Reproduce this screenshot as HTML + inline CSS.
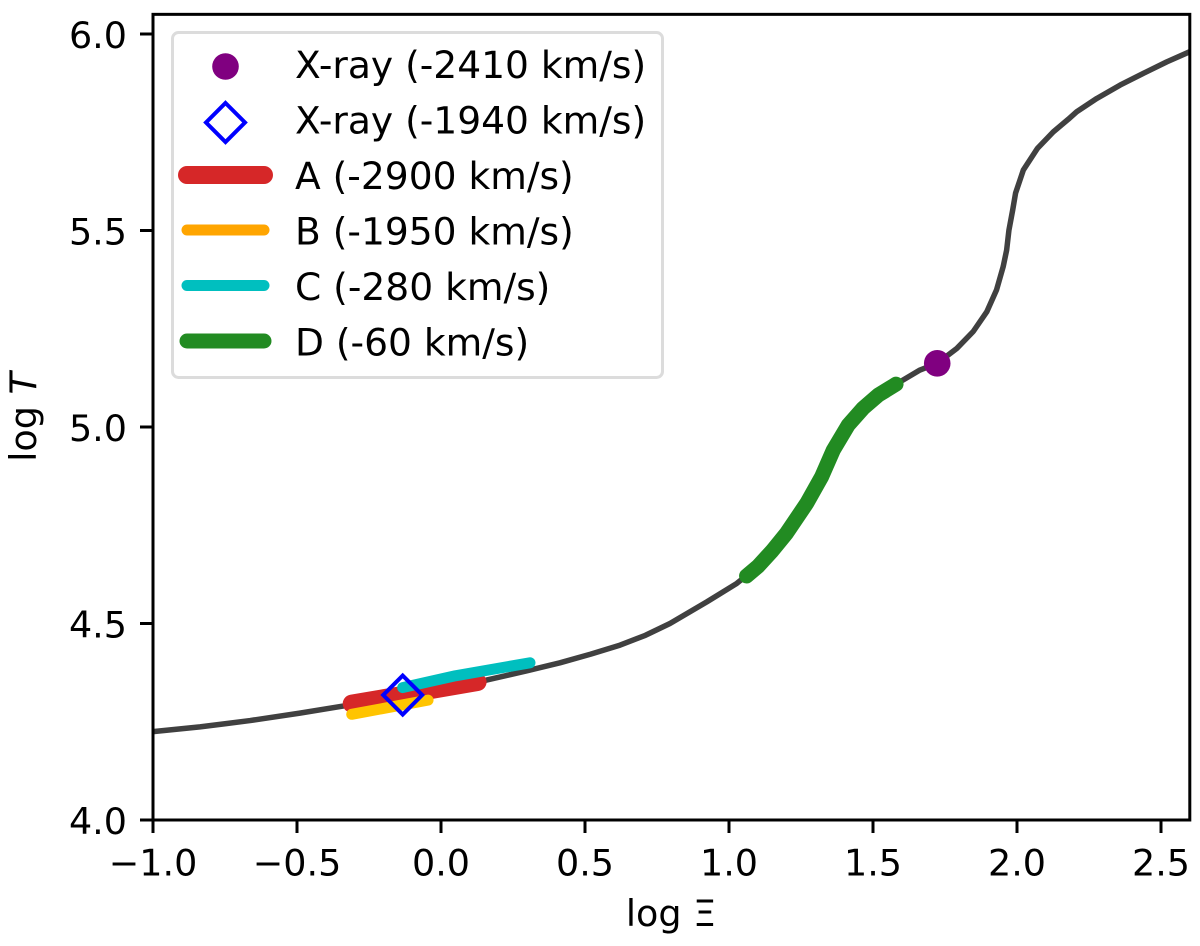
<!DOCTYPE html>
<html lang="en">
<head>
<meta charset="utf-8">
<title>log T versus log Xi</title>
<style>
html,body{margin:0;padding:0;background:#fff;width:1200px;height:946px;overflow:hidden}
svg{display:block}
text{font-family:"DejaVu Sans","Liberation Sans",sans-serif;font-size:36.5px;fill:#000}
.lg{font-size:37.6px}
</style>
</head>
<body>
<svg id="chart" width="1200" height="946" viewBox="0 0 1200 946" xmlns="http://www.w3.org/2000/svg">
  <rect x="0" y="0" width="1200" height="946" fill="#ffffff"/>
  <g id="marks"></g>
  <g id="axes"></g>
  <text x="671" y="926" text-anchor="middle">log Ξ</text>
  <text transform="translate(36,417) rotate(-90)" text-anchor="middle">log <tspan font-style="italic">T</tspan></text>
  <g>
    <rect x="172.5" y="32.5" width="490" height="345" rx="6" ry="6" fill="#ffffff" fill-opacity="0.85" stroke="#dcdcdc" stroke-width="3"/>
    <g>
      <circle cx="225.5" cy="66.5" r="13.3" fill="#800080"/>
      <text class="lg" x="295" y="78">X-ray (-2410 km/s)</text>
    </g>
    <g>
      <polygon points="225.5,103 245,122.5 225.5,142 206,122.5" fill="none" stroke="#0000ff" stroke-width="4"/>
      <text class="lg" x="295" y="133.5">X-ray (-1940 km/s)</text>
    </g>
    <g>
      <line x1="187" y1="175" x2="264" y2="175" stroke="#d62728" stroke-width="18" stroke-linecap="round"/>
      <text class="lg" x="295" y="189">A (-2900 km/s)</text>
    </g>
    <g>
      <line x1="187" y1="230" x2="264" y2="230" stroke="#ffa500" stroke-width="11" stroke-linecap="round"/>
      <text class="lg" x="295" y="244.5">B (-1950 km/s)</text>
    </g>
    <g>
      <line x1="187" y1="285.5" x2="264" y2="285.5" stroke="#00bfbf" stroke-width="11" stroke-linecap="round"/>
      <text class="lg" x="295" y="300">C (-280 km/s)</text>
    </g>
    <g>
      <line x1="187" y1="341" x2="264" y2="341" stroke="#228b22" stroke-width="15" stroke-linecap="round"/>
      <text class="lg" x="295" y="355.5">D (-60 km/s)</text>
    </g>
  </g>
</svg>
<script>
// Chart data
const curveX = [-1.0,-0.837,-0.75,-0.663,-0.49,-0.34,-0.2,-0.1,0.0,0.158,0.3,0.413,0.52,0.622,0.71,0.795,0.923,1.027,1.10,1.15,1.2,1.27,1.322,1.362,1.414,1.466,1.518,1.58,1.663,1.723,1.791,1.848,1.895,1.929,1.952,1.964,1.972,1.985,1.995,2.022,2.071,2.126,2.178,2.207,2.277,2.358,2.439,2.52,2.6];
const curveT = [4.225,4.237,4.245,4.253,4.272,4.29,4.312,4.328,4.342,4.356,4.38,4.40,4.422,4.445,4.47,4.50,4.555,4.602,4.645,4.685,4.730,4.806,4.874,4.941,5.005,5.048,5.081,5.109,5.145,5.162,5.200,5.243,5.293,5.349,5.408,5.450,5.501,5.552,5.595,5.654,5.709,5.751,5.783,5.802,5.836,5.870,5.900,5.929,5.955];
const lineAX = [-0.31,0.127];
const lineAT = [4.296,4.351];
const lineBX = [-0.31,-0.045];
const lineBT = [4.269,4.305];
const lineCX = [-0.133,0.05,0.309];
const lineCT = [4.337,4.367,4.40];
const lineDX = [1.061,1.10,1.15,1.2,1.27,1.322,1.362,1.414,1.466,1.518,1.58];
const lineDT = [4.621,4.645,4.685,4.730,4.806,4.874,4.941,5.005,5.048,5.081,5.109];
const xrayCircleX = [1.723];
const xrayCircleT = [5.162];
const xrayDiamondX = [-0.133];
const xrayDiamondT = [4.318];
const xTicks = [-1.0,-0.5,0.0,0.5,1.0,1.5,2.0,2.5];
const xTickLabels = ['\u22121.0','\u22120.5','0.0','0.5','1.0','1.5','2.0','2.5'];
const yTicks = [4.0,4.5,5.0,5.5,6.0];
const yTickLabels = ['4.0','4.5','5.0','5.5','6.0'];

// Axis functions
const xDomain = [-1.0, 2.6], yDomain = [4.0, 6.05];
const plotL = 153, plotR = 1189.8, plotB = 820, pxPerT = 393;
const plotT = plotB - (yDomain[1] - yDomain[0]) * pxPerT;
function sx(v){ return plotL + (v - xDomain[0]) / (xDomain[1] - xDomain[0]) * (plotR - plotL); }
function sy(v){ return plotB - (v - yDomain[0]) * pxPerT; }

const NS = 'http://www.w3.org/2000/svg';
function make(tag, attrs, parent){
  const el = document.createElementNS(NS, tag);
  for (const k in attrs) el.setAttribute(k, attrs[k]);
  parent.appendChild(el);
  return el;
}
function pathD(xs, ys){
  return xs.map(function(x, i){ return (i ? 'L' : 'M') + sx(x).toFixed(2) + ' ' + sy(ys[i]).toFixed(2); }).join(' ');
}

const marks = document.getElementById('marks');
const axes = document.getElementById('axes');

const curve = make('path', {d: pathD(curveX, curveT), fill: 'none', stroke: '#000', 'stroke-opacity': 0.75, 'stroke-width': 5.5, 'stroke-linejoin': 'round'}, marks);



const lineA = make('path', {d: pathD(lineAX, lineAT), fill: 'none', stroke: '#d62728', 'stroke-width': 18, 'stroke-linecap': 'round', 'stroke-linejoin': 'round'}, marks);



const lineB = make('path', {d: pathD(lineBX, lineBT), fill: 'none', stroke: '#ffc400', 'stroke-width': 11, 'stroke-linecap': 'round', 'stroke-linejoin': 'round'}, marks);



const lineC = make('path', {d: pathD(lineCX, lineCT), fill: 'none', stroke: '#00bfbf', 'stroke-width': 11, 'stroke-linecap': 'round', 'stroke-linejoin': 'round'}, marks);



const lineD = make('path', {d: pathD(lineDX, lineDT), fill: 'none', stroke: '#228b22', 'stroke-width': 15, 'stroke-linecap': 'round', 'stroke-linejoin': 'round'}, marks);



const circlePoint = make('circle', {cx: sx(xrayCircleX[0]), cy: sy(xrayCircleT[0]), r: 13.3, fill: '#800080'}, marks);



const dx = sx(xrayDiamondX[0]), dy = sy(xrayDiamondT[0]), dr = 19.5;
const diamondPoint = make('polygon', {points: dx + ',' + (dy - dr) + ' ' + (dx + dr) + ',' + dy + ' ' + dx + ',' + (dy + dr) + ' ' + (dx - dr) + ',' + dy, fill: 'none', stroke: '#0000ff', 'stroke-width': 4}, marks);



// Ticks
xTicks.forEach(function(v, i){
  const t = make('line', {x1: sx(v), x2: sx(v), y1: plotB, y2: plotB + 13, stroke: '#000', 'stroke-width': 3}, axes);
  
  
  const l = make('text', {x: sx(v), y: 875.5, 'text-anchor': 'middle'}, axes);
  
  
  l.textContent = xTickLabels[i];
});
yTicks.forEach(function(v, i){
  const t = make('line', {x1: plotL - 13, x2: plotL, y1: sy(v), y2: sy(v), stroke: '#000', 'stroke-width': 3}, axes);
  
  
  const l = make('text', {x: 127, y: sy(v) + 14, 'text-anchor': 'end'}, axes);
  
  
  l.textContent = yTickLabels[i];
});

// Spines
const frame = make('rect', {x: plotL, y: plotT, width: plotR - plotL, height: plotB - plotT, fill: 'none', stroke: '#000', 'stroke-width': 3}, axes);


</script>
</body>
</html>
